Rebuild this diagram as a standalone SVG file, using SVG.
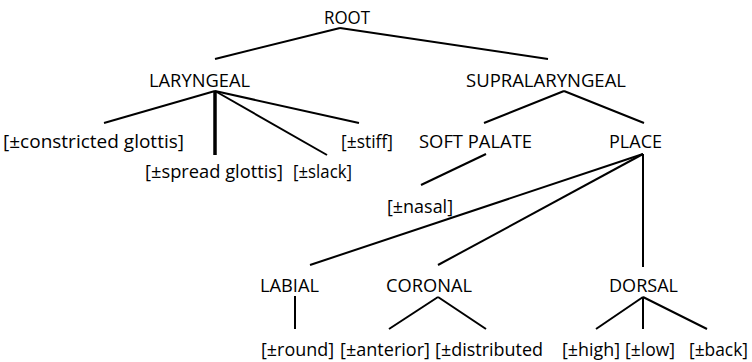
<svg xmlns="http://www.w3.org/2000/svg" width="752" height="362" viewBox="0 0 752 362">
<style>
text{font-family:"Open Sans","Liberation Sans",sans-serif;font-size:18px;fill:#000}
.e{stroke:#000;stroke-width:2;fill:none;stroke-linecap:butt}
.t{stroke-width:3.5}
</style>
<rect width="752" height="362" fill="#fff"/>
<g id="connectors">
<line class="e" x1="340" y1="28" x2="215" y2="59"/>
<line class="e" x1="340" y1="28" x2="548" y2="59"/>
<line class="e" x1="215" y1="91" x2="104" y2="123"/>
<line class="e t" x1="215" y1="91" x2="215" y2="155"/>
<line class="e" x1="215" y1="91" x2="327" y2="155"/>
<line class="e" x1="215" y1="91" x2="359" y2="123"/>
<line class="e" x1="564" y1="91" x2="484" y2="123"/>
<line class="e" x1="564" y1="91" x2="644" y2="123"/>
<line class="e" x1="486" y1="154" x2="421" y2="185"/>
<line class="e" x1="643" y1="154" x2="310" y2="265"/>
<line class="e" x1="643" y1="154" x2="438" y2="265"/>
<line class="e" x1="643" y1="154" x2="643" y2="267"/>
<line class="e" x1="295" y1="296" x2="295" y2="329"/>
<line class="e" x1="438" y1="297" x2="389" y2="329"/>
<line class="e" x1="438" y1="297" x2="486" y2="329"/>
<line class="e" x1="643" y1="297" x2="596" y2="329"/>
<line class="e" x1="643" y1="297" x2="643" y2="329"/>
<line class="e" x1="643" y1="297" x2="707" y2="329"/>
</g>
<g id="root"><text x="324" y="24" textLength="46" lengthAdjust="spacingAndGlyphs">ROOT</text></g>
<g id="laryngeal"><text x="149" y="87" textLength="101" lengthAdjust="spacingAndGlyphs">LARYNGEAL</text></g>
<g id="supralaryngeal"><text x="466" y="87" textLength="160" lengthAdjust="spacingAndGlyphs">SUPRALARYNGEAL</text></g>
<g id="constricted"><text x="3" y="148" textLength="181" lengthAdjust="spacingAndGlyphs">[±constricted glottis]</text></g>
<g id="stiff"><text x="341" y="148" textLength="52" lengthAdjust="spacingAndGlyphs">[±stiff]</text></g>
<g id="softpalate"><text x="419" y="148" textLength="113" lengthAdjust="spacingAndGlyphs">SOFT PALATE</text></g>
<g id="place"><text x="609" y="148" textLength="53" lengthAdjust="spacingAndGlyphs">PLACE</text></g>
<g id="spread"><text x="145" y="178" textLength="138" lengthAdjust="spacingAndGlyphs">[±spread glottis]</text></g>
<g id="slack"><text x="293" y="178" textLength="59" lengthAdjust="spacingAndGlyphs">[±slack]</text></g>
<g id="nasal"><text x="387" y="213" textLength="66" lengthAdjust="spacingAndGlyphs">[±nasal]</text></g>
<g id="labial"><text x="260" y="292" textLength="59" lengthAdjust="spacingAndGlyphs">LABIAL</text></g>
<g id="coronal"><text x="386" y="292" textLength="86" lengthAdjust="spacingAndGlyphs">CORONAL</text></g>
<g id="dorsal"><text x="609" y="292" textLength="69" lengthAdjust="spacingAndGlyphs">DORSAL</text></g>
<g id="round"><text x="261" y="356" textLength="73" lengthAdjust="spacingAndGlyphs">[±round]</text></g>
<g id="anterior"><text x="340" y="356" textLength="90" lengthAdjust="spacingAndGlyphs">[±anterior]</text></g>
<g id="distributed"><text x="435" y="356" textLength="108" lengthAdjust="spacingAndGlyphs">[±distributed</text></g>
<g id="high"><text x="562" y="356" textLength="58" lengthAdjust="spacingAndGlyphs">[±high]</text></g>
<g id="low"><text x="625" y="356" textLength="50" lengthAdjust="spacingAndGlyphs">[±low]</text></g>
<g id="back"><text x="689" y="356" textLength="59" lengthAdjust="spacingAndGlyphs">[±back]</text></g>
</svg>
